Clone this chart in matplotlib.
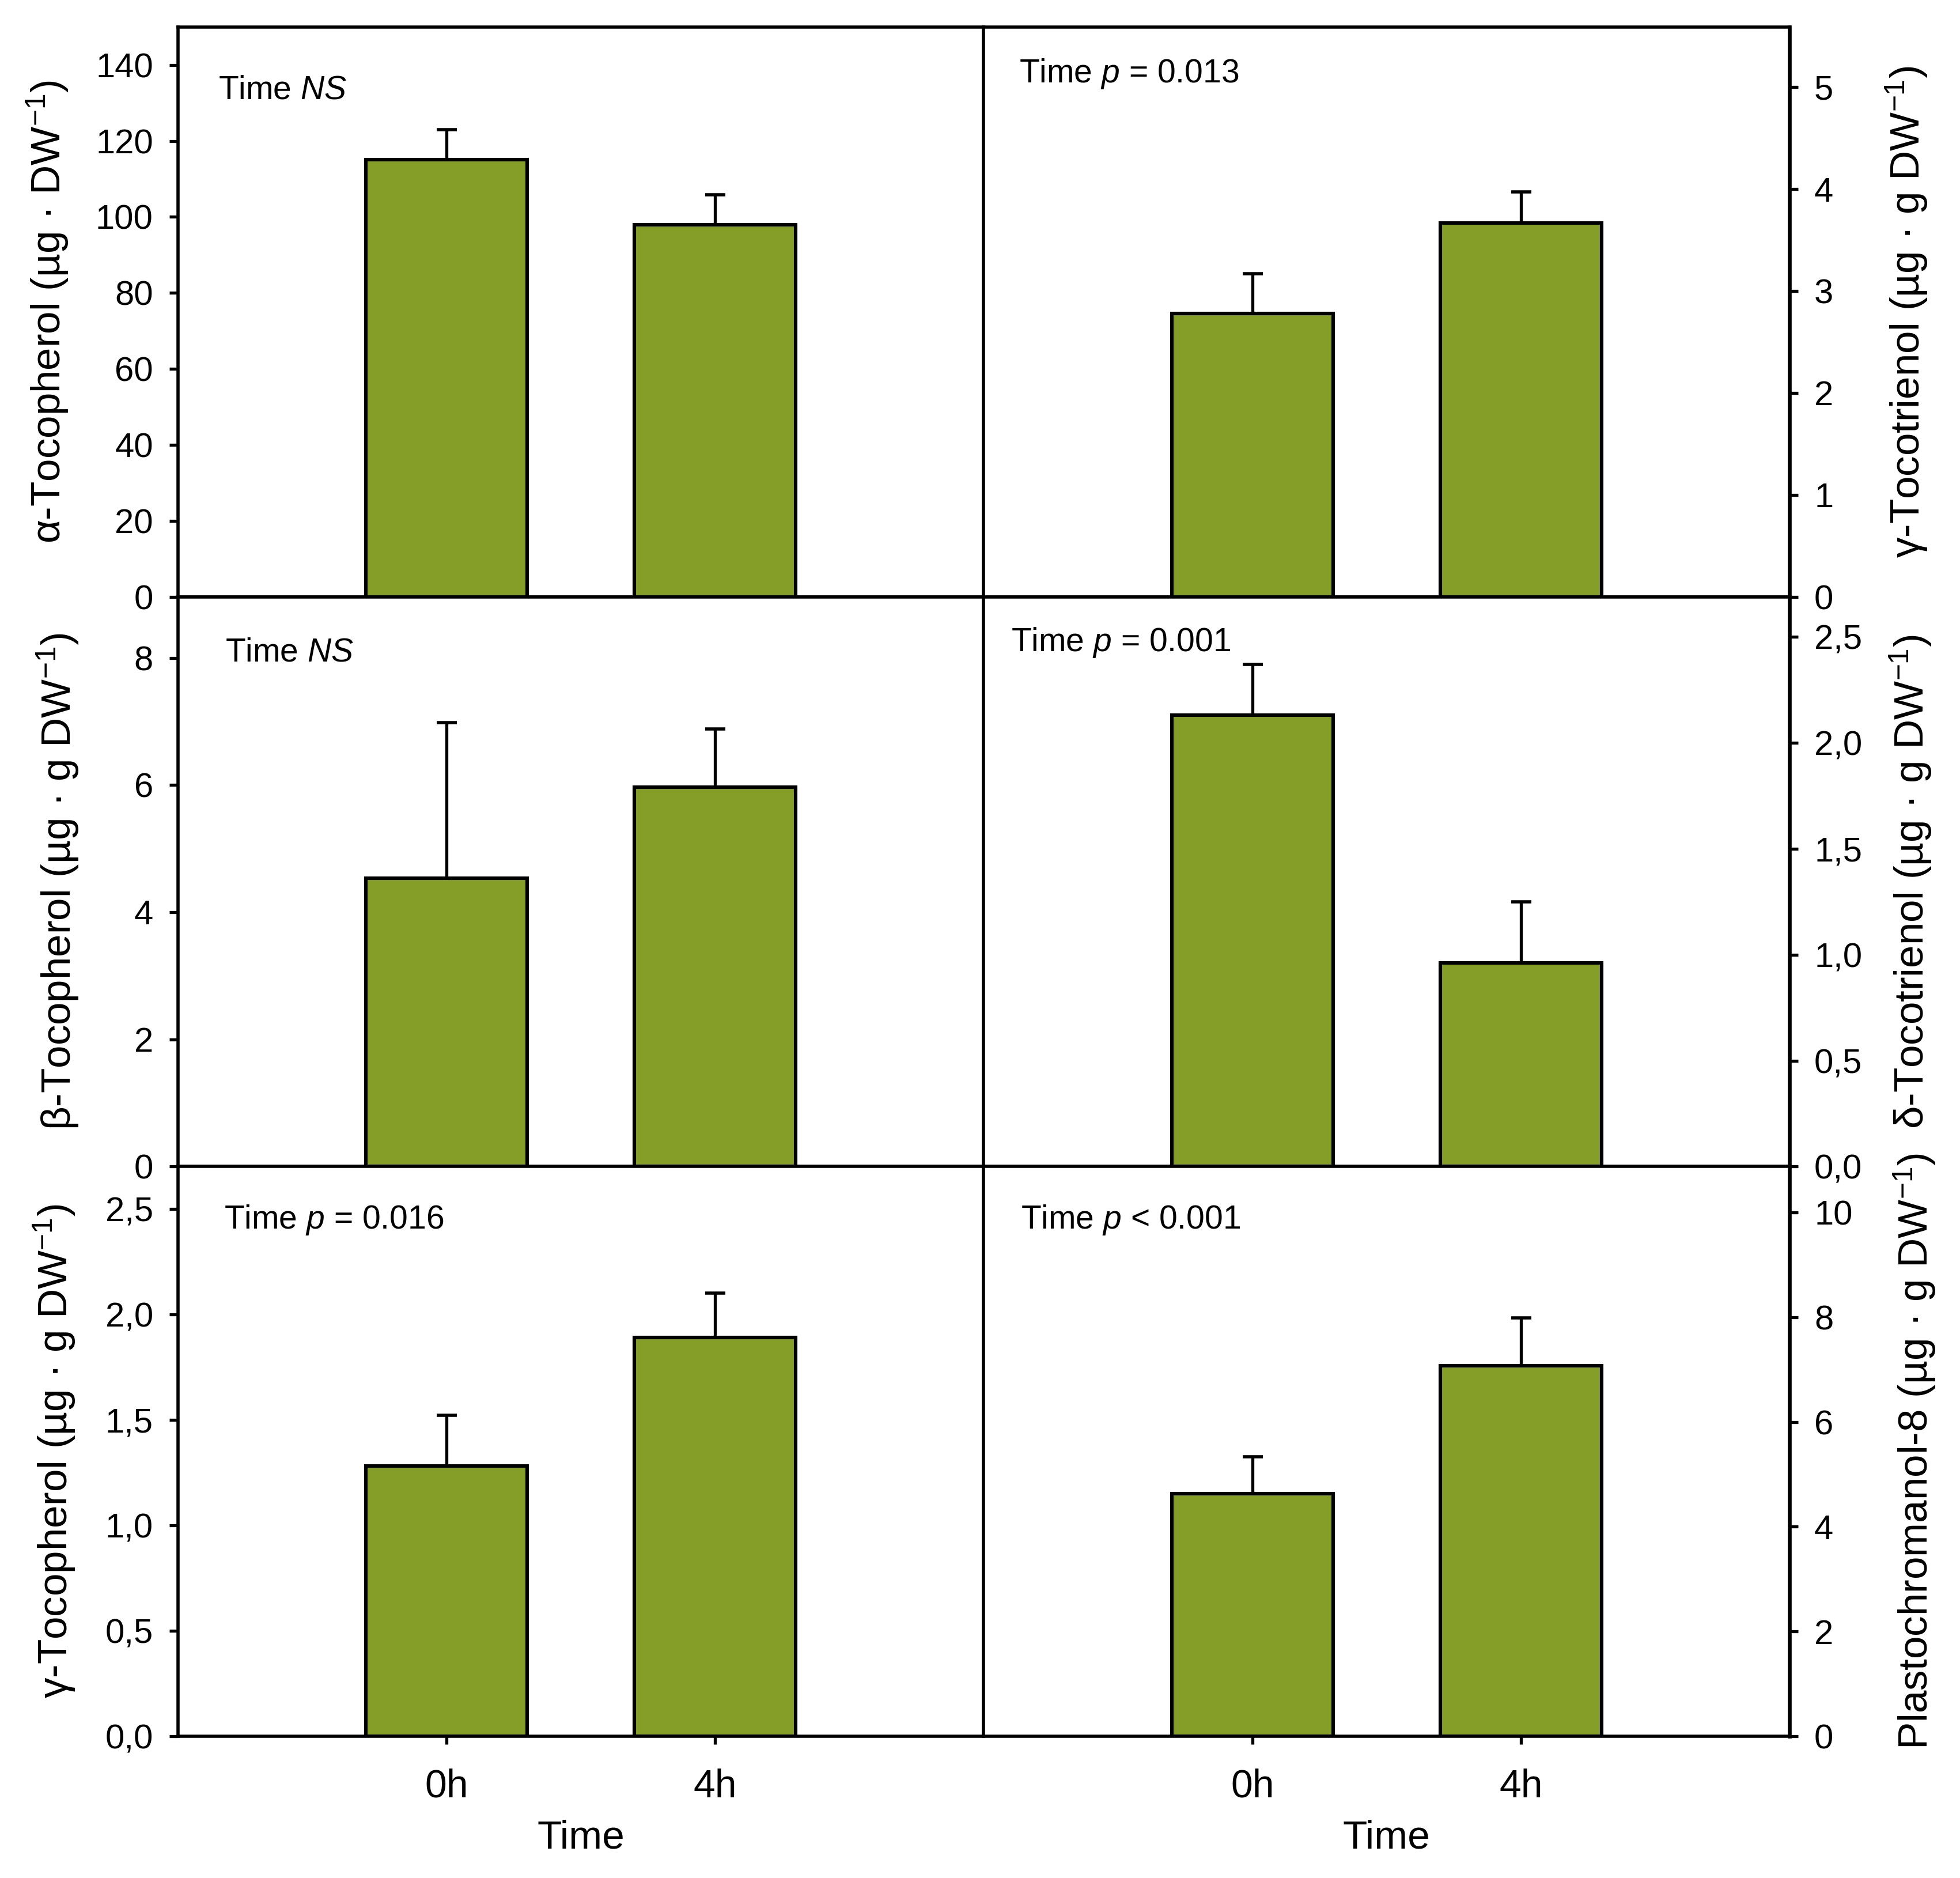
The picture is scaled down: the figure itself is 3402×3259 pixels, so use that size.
import matplotlib
matplotlib.use("Agg")
import matplotlib.pyplot as plt
from matplotlib.ticker import FuncFormatter

plt.rcParams['font.family'] = ['Liberation Sans', 'DejaVu Sans']
plt.rcParams['mathtext.fontset'] = 'custom'
plt.rcParams['mathtext.rm'] = 'Liberation Sans'
plt.rcParams['mathtext.it'] = 'Liberation Sans:italic'

times = ['0h', '4h']

alpha_toc = [115.1, 98.0]
alpha_toc_err = [7.9, 7.9]
gamma_t3 = [2.78, 3.67]
gamma_t3_err = [0.39, 0.30]
beta_toc = [4.53, 5.97]
beta_toc_err = [2.45, 0.91]
delta_t3 = [2.13, 0.96]
delta_t3_err = [0.24, 0.29]
gamma_toc = [1.28, 1.89]
gamma_toc_err = [0.24, 0.21]
pc8 = [4.63, 7.08]
pc8_err = [0.71, 0.91]

bar_color = '#849E28'

panels = [
    # values, errors, ylabel, annotation, ylim top, ticks, comma, side, note y, note x, label x
    (alpha_toc, alpha_toc_err, r'α-Tocopherol (µg · DW$^{-1}$)', r'Time $\mathit{NS}$',
     150, list(range(0, 141, 20)), False, 'left', 0.874, 0.050, 0.0244),
    (gamma_t3, gamma_t3_err, r'γ-Tocotrienol (µg · g DW$^{-1}$)', r'Time $\mathit{p}$ = 0.013',
     5.59, [0, 1, 2, 3, 4, 5], False, 'right', 0.903, 0.044, 0.973),
    (beta_toc, beta_toc_err, r'β-Tocopherol (µg · g DW$^{-1}$)', r'Time $\mathit{NS}$',
     8.96, [0, 2, 4, 6, 8], False, 'left', 0.887, 0.059, 0.0295),
    (delta_t3, delta_t3_err, r'δ-Tocotrienol (µg · g DW$^{-1}$)', r'Time $\mathit{p}$ = 0.001',
     2.69, [0, 0.5, 1.0, 1.5, 2.0, 2.5], True, 'right', 0.905, 0.034, 0.975),
    (gamma_toc, gamma_toc_err, r'γ-Tocopherol (µg · g DW$^{-1}$)', r'Time $\mathit{p}$ = 0.016',
     2.70, [0, 0.5, 1.0, 1.5, 2.0, 2.5], True, 'left', 0.891, 0.057, 0.0277),
    (pc8, pc8_err, r'Plastochromanol-8 (µg · g DW$^{-1}$)', r'Time $\mathit{p}$ < 0.001',
     10.88, [0, 2, 4, 6, 8, 10], False, 'right', 0.891, 0.046, 0.977),
]

fig, axes = plt.subplots(3, 2, figsize=(17.01, 16.295), dpi=200)
fig.subplots_adjust(left=0.0908, right=0.913, top=0.9856, bottom=0.0755,
                    hspace=0, wspace=0)

comma_fmt = FuncFormatter(lambda v, pos: f'{v:.1f}'.replace('.', ','))
int_fmt = FuncFormatter(lambda v, pos: f'{v:.0f}')

x = list(range(len(times)))
for i, (vals, errs, ylab, note, ytop, yticks, comma, side, ny, nx, lx) in enumerate(panels):
    ax = axes.flat[i]
    ax.bar(x, vals, width=0.6, color=bar_color, edgecolor='black', linewidth=2.2, zorder=2)
    ax.errorbar(x, vals, yerr=[[0] * len(errs), errs], fmt='none', ecolor='black',
                elinewidth=1.9, capsize=6.3, capthick=2.0, zorder=3)
    ax.set_xlim(-1, 2)
    ax.set_ylim(0, ytop)
    ax.set_yticks(yticks)
    ax.yaxis.set_major_formatter(comma_fmt if comma else int_fmt)
    for sp in ax.spines.values():
        sp.set_linewidth(2.0)

    if side == 'right':
        ax.yaxis.tick_right()
        ax.yaxis.set_label_position('right')
        ax.spines['right'].set_linewidth(2.4)
    ax.tick_params(axis='y', direction='out', length=5.5, width=1.9, pad=10, labelsize=21.5)

    ax.set_xticks(x)
    if i >= 4:
        ax.set_xticklabels(times)
        ax.tick_params(axis='x', direction='out', length=5, width=1.9, pad=15, labelsize=24.5)
        ax.set_xlabel('Time', fontsize=25, labelpad=9)
    else:
        ax.tick_params(axis='x', length=0, labelbottom=False)

    ax.set_ylabel(ylab, fontsize=25.5)
    ax.yaxis.label.set_va('center')
    ax.yaxis.label.set_ha('center')
    pos = ax.get_position()
    ax.yaxis.set_label_coords((lx - pos.x0) / pos.width, 0.5)

    ax.text(nx, ny, note, transform=ax.transAxes, fontsize=20.5, ha='left', va='baseline')

fig.savefig('out.png', dpi=200)
